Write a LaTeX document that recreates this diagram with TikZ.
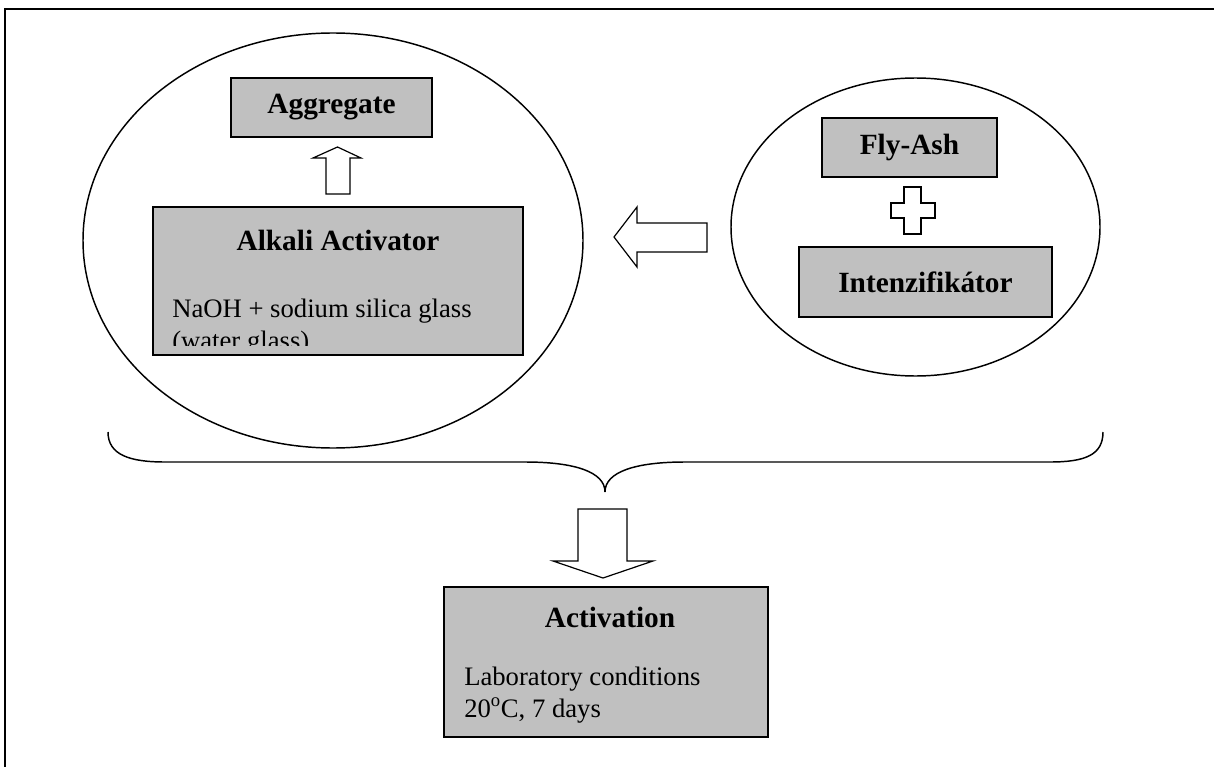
\documentclass[tikz,border=0pt]{standalone}
\usepackage{fontspec}
\setmainfont{Liberation Serif}
\usepackage{tikz}
\usetikzlibrary{positioning,shapes.geometric}
\definecolor{boxgray}{RGB}{192,192,192}

\begin{document}
\begin{tikzpicture}[x=0.75pt,y=-0.75pt,
        box/.style={draw,fill=boxgray,line width=1.1pt,inner sep=0pt},
        blob/.style={ellipse,draw,line width=1.1pt,inner sep=0pt},
        hollow/.style={draw,fill=white,line width=0.9pt,line join=miter},
        title/.style={font=\bfseries\fontsize{22}{26}\selectfont},
        body/.style={font=\fontsize{20}{24}\selectfont,inner sep=0pt,anchor=base west}]
        \useasboundingbox (0,0) rectangle (1214,767);
        \draw[line width=1.5pt] (5,767) -- (5,9) -- (1214,9);
        % the two groups
        \node[blob,minimum width=375pt,minimum height=311.25pt] (mix) at (333,240.5) {};
        \node[blob,minimum width=276.75pt,minimum height=223.5pt] (binder) at (915.5,227) {};
        % boxes
        \node[box,title,minimum width=150.75pt,minimum height=44.25pt] (aggregate) at (331.5,107.5) {Aggregate};
        \node[box,minimum width=277.5pt,minimum height=111pt] (alkali) at (338,281) {};
        \node[title] (alkalititle) at (338,240) {Alkali Activator};
        \begin{scope}
            \clip (153,207) rectangle (523,345);
            \node[body] (naoh) at (172,317) {NaOH + sodium silica glass};
            \node[body] (water) at ([yshift=-24pt]naoh.base west) {(water glass)};
        \end{scope}
        \node[box,title,minimum width=131.25pt,minimum height=44.25pt] (flyash) at (909.5,147.5) {Fly-Ash};
        \node[box,title,minimum width=189.75pt,minimum height=52.5pt] (intenz) at (925.5,282) {Intenzifikátor};
        \node[box,minimum width=243pt,minimum height=112.5pt] (activation) at (606,662) {};
        \node[title] (acttitle) at (610,617) {Activation};
        \node[body] (lab) at (464,685) {Laboratory conditions};
        \node[body] (days) at ([yshift=-24pt]lab.base west) {20\textsuperscript{o}C, 7 days};
        % block arrows and plus
        \draw[hollow] (326,194) -- (326,158) -- (313,158) -- (337.5,147) -- (361,158)
                -- (350,158) -- (350,194) -- cycle;
        \draw[hollow] (707,223) -- (637,223) -- (637,207) -- (614,237) -- (637,267)
                -- (637,252) -- (707,252) -- cycle;
        \draw[hollow] (578,509) -- (578,561) -- (553,561) -- (603,578) -- (653,561)
                -- (627,561) -- (627,509) -- cycle;
        \draw[hollow] (904,187) -- (921,187) -- (921,203) -- (935,203) -- (935,218)
                -- (921,218) -- (921,234) -- (904,234) -- (904,218) -- (891,218)
                -- (891,203) -- (904,203) -- cycle;
        % brace
        \coordinate (bl) at (108,432);
        \coordinate (cusp) at (605,492);
        \coordinate (br) at (1103,432);
        \draw[line width=1.1pt] (bl) .. controls (108,455) and (130,462) .. (165,462) -- (525,462)
                .. controls (575,462) and (605,472) .. (cusp)
                .. controls (605,472) and (635,462) .. (685,462) -- (1050,462)
                .. controls (1085,462) and (1103,455) .. (br);
\end{tikzpicture}
\end{document}
